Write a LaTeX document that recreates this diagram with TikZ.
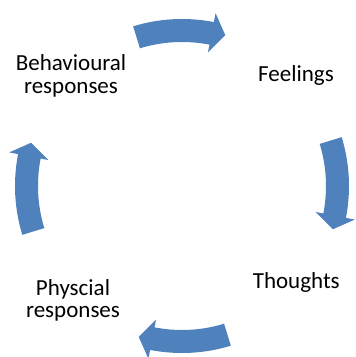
\documentclass[tikz,border=0pt]{standalone}
\usepackage{fontspec}
\setmainfont{Carlito}
\definecolor{arrowblue}{RGB}{79,129,189}
\begin{document}
\begin{tikzpicture}[x=1pt,y=1pt,
  lbl/.style={font=\fontsize{23}{23}\selectfont, align=center, inner sep=0pt, anchor=base, text=black},
  cyclearrow/.style={fill=arrowblue}]
\useasboundingbox (0,0) rectangle (356,357);
\coordinate (C) at (182,171);
% arrows (clockwise cycle)
\foreach \k in {0,1,2,3}{
  \begin{scope}[shift={(C)}, rotate=-90*\k]
    \fill[cyclearrow] (107:167pt) arc[start angle=107,end angle=79,radius=167pt]
      -- (79:176pt) -- (74:157pt) -- (79:136pt) -- (79:144pt)
      arc[start angle=79,end angle=107,radius=144pt] -- cycle;
  \end{scope}
}
\node[lbl] (beh) at (71,263) {Behavioural\\responses};
\node[lbl] (fee) at (296,275.3) {Feelings};
\node[lbl] (tho) at (296.3,68.7) {Thoughts};
\node[lbl] (phy) at (73,39) {Physcial\\responses};
\end{tikzpicture}
\end{document}
